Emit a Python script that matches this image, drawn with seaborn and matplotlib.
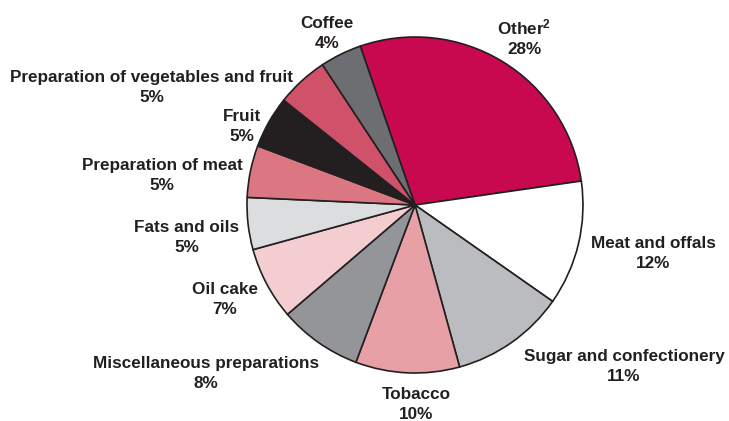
import matplotlib
matplotlib.use("Agg")
import matplotlib.pyplot as plt
import seaborn as sns

# Share of imports by product group (percent), listed clockwise from "Other"
categories = [
    "Other$^{\\mathbf{2}}$", "Meat and offals", "Sugar and confectionery", "Tobacco",
    "Miscellaneous preparations", "Oil cake", "Fats and oils",
    "Preparation of meat", "Fruit", "Preparation of vegetables and fruit",
    "Coffee",
]
shares = [28, 12, 11, 10, 8, 7, 5, 5, 5, 5, 4]

colors = [
    "#C8094F", "#FFFFFF", "#BBBCBF", "#E6A0A6", "#939598", "#F3CDD0",
    "#DCDDDF", "#DA7782", "#231F20", "#D0516A", "#6D6E71",
]

# Label anchors in pixel space: horizontal centre, last-line baseline (from top)
label_pos = [
    (524, 54), (653, 268), (624, 381), (416, 419), (206, 388), (225, 314),
    (187, 252), (162, 190), (242, 141), (152, 102), (327, 48),
]

sns.set_theme(style="white")
plt.rcParams["font.family"] = ["Liberation Sans", "DejaVu Sans"]
plt.rcParams["mathtext.fontset"] = "custom"
plt.rcParams["mathtext.rm"] = "Liberation Sans"
plt.rcParams["mathtext.bf"] = "Liberation Sans:bold"
plt.rcParams["mathtext.default"] = "bf"

W, H = 729, 421
fig = plt.figure(figsize=(W / 100, H / 100), dpi=100)
ax = fig.add_axes([0, 0, 1, 1])

cx, cy, r = 415, 205, 168  # pie centre and radius in pixels

ax.pie(
    shares,
    colors=colors,
    startangle=109,
    counterclock=False,
    radius=1.0,
    center=(0, 0),
    frame=True,
    wedgeprops=dict(edgecolor="#231F20", linewidth=1.2),
)
ax.set_xlim(-cx / r, (W - cx) / r)
ax.set_ylim(-(H - cy) / r, cy / r)
ax.set_aspect("auto")
ax.axis("off")

for name, val, (px, py) in zip(categories, shares, label_pos):
    ax.text(
        (px - cx) / r, (cy - py) / r, f"{name}\n{val}%",
        ha="center", va="baseline", fontsize=12.3, fontweight="bold",
        color="#231F20", linespacing=1.42,
    )

fig.savefig("out.png", dpi=100, facecolor="white")
